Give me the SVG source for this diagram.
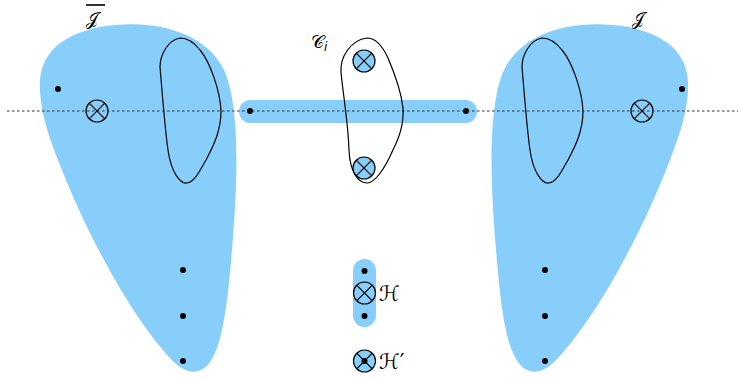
<svg xmlns="http://www.w3.org/2000/svg" width="738" height="379" viewBox="0 0 738 379">
<style>
.blob{fill:#87cefa;stroke:none}
.loop{fill:none;stroke:#000;stroke-width:1.2}
.ot{stroke:#000;stroke-width:1.2}
.dot{fill:#000}
.lbl{font-family:"DejaVu Sans","Noto Sans",serif;font-size:18px;fill:#000}
.hl{font-size:21px}
</style>
<defs>
<g id="otimes"><circle r="11" fill="inherit"/><path d="M-7.8,-7.8 L7.8,7.8 M7.8,-7.8 L-7.8,7.8" fill="none"/></g>
<path id="blobL" d="M 40,90 C 38,55 60,35 100,27 C 150,18 205,30 224,70 C 240,105 238,180 232,250 C 227,310 222,345 210,362 C 200,376 185,375 170,358 C 130,315 85,230 60,165 C 46,130 41,110 40,90 Z"/>
<path id="loopL" d="M 180,38 C 168,40 160,55 160,67 C 162,90 165,130 168,150 C 171,172 180,184 187,183 C 195,182 200,170 206,160 C 214,145 221,130 221,111 C 220,90 210,62 200,50 C 193,41 187,38 180,38 Z"/>
</defs>
<g id="blob-left">
<use href="#blobL" class="blob"/>
<use href="#loopL" class="loop"/>
<circle class="dot" cx="58" cy="89" r="3"/>
<g transform="translate(97,111)" class="ot" fill="none"><use href="#otimes"/></g>
<circle class="dot" cx="183" cy="270" r="3"/>
<circle class="dot" cx="183" cy="316" r="3"/>
<circle class="dot" cx="183" cy="361" r="3"/>
<text class="lbl" x="86" y="25">𝒥</text>
<line x1="86" y1="5" x2="105" y2="5" stroke="#000" stroke-width="1.6"/>
</g>
<g id="blob-right">
<use href="#blobL" class="blob" transform="translate(728,0) scale(-1,1)"/>
<use href="#loopL" class="loop" transform="translate(362,0)"/>
<circle class="dot" cx="682" cy="89" r="3"/>
<g transform="translate(642,111)" class="ot" fill="none"><use href="#otimes"/></g>
<circle class="dot" cx="545" cy="270" r="3"/>
<circle class="dot" cx="545" cy="316" r="3"/>
<circle class="dot" cx="545" cy="361" r="3"/>
<text class="lbl" x="632" y="25">𝒥</text>
</g>
<g id="bar">
<rect x="239" y="100" width="238" height="23" rx="11.5" class="blob"/>
<circle class="dot" cx="250" cy="111" r="3"/>
<circle class="dot" cx="466" cy="111" r="3"/>
</g>
<g id="connectors">
<line x1="7" y1="111" x2="738" y2="111" stroke="#333" stroke-width="1.2" stroke-dasharray="2.5,2.5"/>
</g>
<g id="Ci">
<path class="loop" d="M 367,38 C 350,40 340,58 341,72 C 343,95 348,120 349,150 C 350,172 358,183 367,183 C 375,183 385,168 392,152 C 399,138 404,125 403,108 C 401,90 394,72 388,58 C 382,45 375,38 367,38 Z"/>
<g transform="translate(364,61)" class="ot" fill="#87cefa"><use href="#otimes"/></g>
<g transform="translate(364,168)" class="ot" fill="#87cefa"><use href="#otimes"/></g>
<text class="lbl" x="311" y="48">𝒞<tspan font-size="12" font-style="italic" dy="3">i</tspan></text>
</g>
<g id="H">
<rect x="353" y="259" width="23" height="68" rx="11.5" class="blob"/>
<circle class="dot" cx="364.5" cy="271" r="3"/>
<circle class="dot" cx="364.5" cy="316" r="3"/>
<g transform="translate(364.5,293)" class="ot" fill="none"><use href="#otimes"/></g>
<text class="lbl hl" x="379" y="301">ℋ</text>
</g>
<g id="Hprime">
<g transform="translate(364.5,361)" class="ot" fill="#87cefa"><use href="#otimes"/></g>
<circle class="dot" cx="364.5" cy="361" r="3"/>
<text class="lbl hl" x="379" y="369">ℋ<tspan font-family="DejaVu Sans">′</tspan></text>
</g>
</svg>
